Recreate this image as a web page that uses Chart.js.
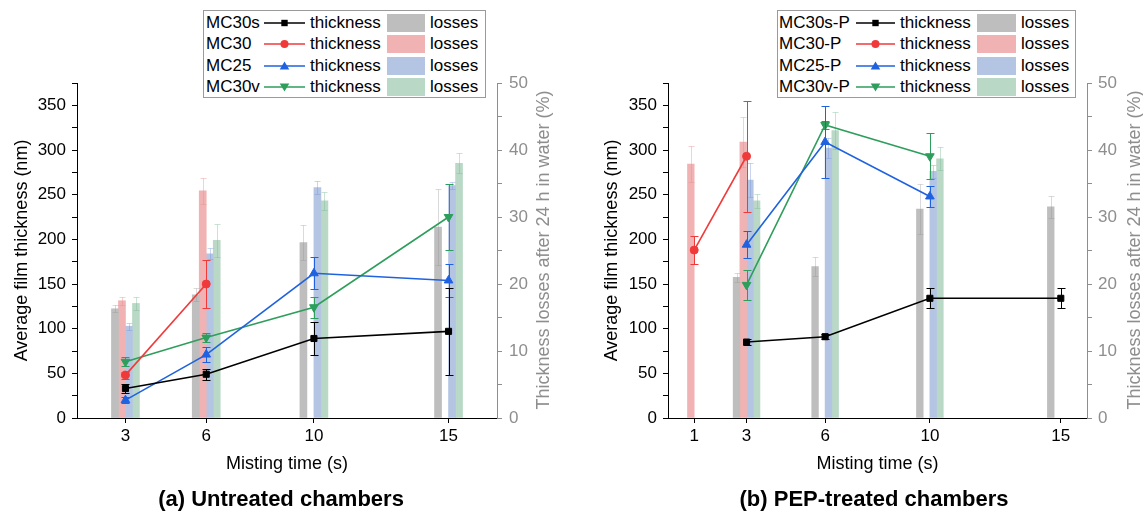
<!DOCTYPE html>
<html><head><meta charset="utf-8">
<script src="https://cdn.jsdelivr.net/npm/chart.js@4.4.1/dist/chart.umd.min.js"></script>
<style>
html,body{margin:0;padding:0;background:#fff;}
body{width:1143px;height:513px;position:relative;overflow:hidden;font-family:"Liberation Sans",Arial,sans-serif;}
canvas{position:absolute;top:0;}
.t{position:absolute;white-space:nowrap;font-size:17px;line-height:20px;color:#000;}
.box{position:absolute;border:1px solid #9a9a9a;background:#fff;box-sizing:border-box;}
.sw{position:absolute;}
.title{position:absolute;font-weight:bold;font-size:22px;line-height:26px;text-align:center;color:#000;}
.rt{position:absolute;font-size:18px;line-height:20px;height:20px;text-align:center;color:#8e8e8e;white-space:nowrap;transform:rotate(-90deg);transform-origin:50% 50%;}
</style></head><body>
<canvas id="ca" width="560" height="513" style="left:0px"></canvas>
<canvas id="cb" width="553" height="513" style="left:590px"></canvas>
<div class="title" style="left:131px;top:486px;width:300px">(a) Untreated chambers</div>
<div class="title" style="left:724px;top:486px;width:300px">(b) PEP-treated chambers</div>
<script>
// ---------------- DATA ----------------
// Panel (a) untreated chambers
const timesA = [3, 6, 10, 15];
const namesA = ['MC30s', 'MC30', 'MC25', 'MC30v'];
const thickA_MC30s = [33, 49, 89, 97];
const thickA_MC30  = [48, 150, null, null];
const thickA_MC25  = [20, 71, 162, 154];
const thickA_MC30v = [63, 90, 124, 225];
const thickErrA_MC30s = [5, 6, 19, 49];
const thickErrA_MC30  = [4, 27, null, null];
const thickErrA_MC25  = [3, 8, 18, 18];
const thickErrA_MC30v = [5, 5, 12, 37];
const lossA_MC30s = [16.3, 18.4, 26.2, 28.5];
const lossA_MC30  = [17.5, 33.9, null, null];
const lossA_MC25  = [13.7, 24.5, 34.4, 34.7];
const lossA_MC30v = [17.1, 26.5, 32.4, 38.0];
const lossErrA_MC30s = [0.5, 1.0, 2.6, 5.7];
const lossErrA_MC30  = [0.6, 1.9, null, null];
const lossErrA_MC25  = [0.5, 0.8, 0.9, 0.5];
const lossErrA_MC30v = [1.0, 2.4, 1.3, 1.5];

// Panel (b) PEP-treated chambers
const timesB = [1, 3, 6, 10, 15];
const namesB = ['MC30s-P', 'MC30-P', 'MC25-P', 'MC30v-P'];
const thickB_MC30s = [null, 85, 91, 134, 134];
const thickB_MC30  = [188, 293, null, null, null];
const thickB_MC25  = [null, 194, 309, 248, null];
const thickB_MC30v = [null, 149, 328, 293, null];
const thickErrB_MC30s = [null, 3, 3, 11, 11];
const thickErrB_MC30  = [16, 62, null, null, null];
const thickErrB_MC25  = [null, 15, 40, 12, null];
const thickErrB_MC30v = [null, 17, 5, 26, null];
const lossB_MC30s = [null, 21.0, 22.6, 31.2, 31.5];
const lossB_MC30  = [37.9, 41.2, null, null, null];
const lossB_MC25  = [null, 35.5, 40.3, 36.8, null];
const lossB_MC30v = [null, 32.4, 42.9, 38.7, null];
const lossErrB_MC30s = [null, 0.7, 1.4, 3.7, 1.7];
const lossErrB_MC30  = [2.7, 3.7, null, null, null];
const lossErrB_MC25  = [null, 2.5, 1.5, 1.0, null];
const lossErrB_MC30v = [null, 1.0, 2.8, 1.7, null];

// axis labels
const xTitle = 'Misting time (s)';
const yTitle = 'Average film thickness (nm)';
const y2Title = 'Thickness losses after 24 h in water (%)';

// ---------------- STYLE ----------------
const lineColors = ['#000000', '#f03a3a', '#1f62e0', '#2e9e5c'];
const barColors  = ['#bebebe', '#f0b2b2', '#b3c5e3', '#b9d9c6'];
const barErrColors = ['rgba(150,150,150,0.35)', 'rgba(230,140,140,0.4)', 'rgba(120,150,220,0.4)', 'rgba(120,185,150,0.4)'];
const pointStyles = ['rect', 'circle', 'triangle', 'triangle'];
const pointRot = [0, 0, 0, 180];
const pointRad = [4.3, 4, 5, 5];
const FONT = '"Liberation Sans", Arial, sans-serif';
const GRAY = '#8e8e8e';

Chart.defaults.font.family = FONT;
Chart.defaults.font.size = 17;
Chart.defaults.color = '#000';

const errorBarPlugin = {
  id: 'errbars',
  afterDatasetDraw(chart, args) {
    const ds = chart.data.datasets[args.index];
    if (!ds.errValues) return;
    const meta = args.meta;
    const ys = chart.scales[meta.yAxisID];
    const ctx = chart.ctx;
    const cap = ds.errCap || 4;
    ctx.save();
    ctx.strokeStyle = ds.errColor;
    ctx.lineWidth = 1;
    meta.data.forEach((el, i) => {
      const v = ds.data[i].y, e = ds.errValues[i];
      if (v == null || e == null || !isFinite(el.x)) return;
      const x = Math.round(el.x) + 0.5;
      const y1 = Math.round(ys.getPixelForValue(v + e)) + 0.5;
      const y2 = Math.round(ys.getPixelForValue(v - e)) + 0.5;
      ctx.beginPath();
      ctx.moveTo(x, y1); ctx.lineTo(x, y2);
      ctx.moveTo(x - cap, y1); ctx.lineTo(x + cap, y1);
      ctx.moveTo(x - cap, y2); ctx.lineTo(x + cap, y2);
      ctx.stroke();
    });
    ctx.restore();
  }
};

function pts(times, vals) { return times.map((t, i) => ({ x: t, y: vals[i] })); }

function makeChart(id, p) {
  const datasets = [];
  for (let k = 0; k < 4; k++) {
    datasets.push({
      type: 'line', label: p.names[k] + ' thickness', data: pts(p.times, p.thick[k]),
      yAxisID: 'y', order: 1,
      borderColor: lineColors[k], backgroundColor: lineColors[k], borderWidth: 1.6,
      pointStyle: pointStyles[k], rotation: pointRot[k], pointRadius: pointRad[k],
      pointBorderColor: lineColors[k], pointBackgroundColor: lineColors[k], pointBorderWidth: 1,
      tension: 0, spanGaps: false,
      errValues: p.thickErr[k], errColor: lineColors[k], errCap: 4
    });
  }
  for (let k = 0; k < 4; k++) {
    datasets.push({
      type: 'bar', label: p.names[k] + ' losses', data: pts(p.times, p.loss[k]),
      yAxisID: 'y2', order: 2,
      backgroundColor: barColors[k], borderWidth: 0,
      barThickness: p.barW,
      errValues: p.lossErr[k], errColor: barErrColors[k], errCap: 3
    });
  }
  return new Chart(document.getElementById(id), {
    type: 'bar',
    data: { datasets },
    plugins: [errorBarPlugin],
    options: {
      responsive: false, animation: false, devicePixelRatio: 1,
      layout: { padding: { top: 83, left: 0, right: 0, bottom: 0 } },
      plugins: { legend: { display: false }, tooltip: { enabled: false } },
      scales: {
        x: {
          type: 'linear', min: p.xMin, max: p.xMax, offset: false,
          afterFit: s => { s.height = 95; },
          afterBuildTicks: s => { s.ticks = p.times.map(v => ({ value: v })); },
          ticks: { color: '#000', padding: 3, font: { size: 17 }, autoSkip: false, maxRotation: 0 },
          grid: { drawOnChartArea: false, drawTicks: true, tickLength: 5, color: '#000', offset: false },
          border: { color: '#000', width: 1 },
          title: { display: true, text: xTitle, color: '#000', font: { size: 18 }, padding: { top: 0, bottom: 38 } }
        },
        y: {
          type: 'linear', position: 'left', min: 0, max: 375,
          afterFit: s => { s.width = p.yW; },
          ticks: { stepSize: 25, autoSkip: false, padding: 6, color: '#000', font: { size: 17 },
                   callback: v => (v % 50 === 0 ? String(v) : '') },
          grid: { drawOnChartArea: false, drawTicks: true, tickLength: 5, color: '#000' },
          border: { color: '#000', width: 1 },
          title: { display: true, text: yTitle, color: '#000', font: { size: 18 }, padding: { top: 11, bottom: 0 } }
        },
        y2: {
          type: 'linear', position: 'right', min: 0, max: 50,
          afterFit: s => { s.width = p.y2W; },
          ticks: { stepSize: 5, autoSkip: false, padding: p.y2Pad, color: GRAY, font: { size: 17 },
                   callback: v => (v % 10 === 0 ? String(v) : '') },
          grid: { drawOnChartArea: false, drawTicks: true, tickLength: 5, color: GRAY },
          border: { color: GRAY, width: 1 },
          title: { display: false }
        }
      }
    }
  });
}

makeChart('ca', {
  times: timesA, names: namesA, xMin: 1.2, xMax: 16.8, barW: 7, yW: 77, y2W: 63, y2Pad: 7,
  thick: [thickA_MC30s, thickA_MC30, thickA_MC25, thickA_MC30v],
  thickErr: [thickErrA_MC30s, thickErrA_MC30, thickErrA_MC25, thickErrA_MC30v],
  loss: [lossA_MC30s, lossA_MC30, lossA_MC25, lossA_MC30v],
  lossErr: [lossErrA_MC30s, lossErrA_MC30, lossErrA_MC25, lossErrA_MC30v]
});
makeChart('cb', {
  times: timesB, names: namesB, xMin: 0, xMax: 16, barW: 6.7, yW: 78, y2W: 56, y2Pad: 6,
  thick: [thickB_MC30s, thickB_MC30, thickB_MC25, thickB_MC30v],
  thickErr: [thickErrB_MC30s, thickErrB_MC30, thickErrB_MC25, thickErrB_MC30v],
  loss: [lossB_MC30s, lossB_MC30, lossB_MC25, lossB_MC30v],
  lossErr: [lossErrB_MC30s, lossErrB_MC30, lossErrB_MC25, lossErrB_MC30v]
});

// right-axis titles (read bottom to top, like the reference)
function rightTitle(cx, cy) {
  const d = document.createElement('div');
  d.className = 'rt';
  d.textContent = y2Title;
  const W = 360;
  Object.assign(d.style, { left: (cx - W / 2) + 'px', top: (cy - 10) + 'px', width: W + 'px' });
  document.body.appendChild(d);
}
rightTitle(543, 250);
rightTitle(1134, 250);

// ---------------- LEGENDS (HTML) ----------------
function markerSVG(k, w) {
  const c = lineColors[k], cy = 10, cx = w / 2;
  let m = '';
  if (k === 0) m = `<rect x="${cx-3.2}" y="${cy-3.2}" width="6.4" height="6.4" fill="${c}"/>`;
  else if (k === 1) m = `<circle cx="${cx}" cy="${cy}" r="4" fill="${c}"/>`;
  else if (k === 2) m = `<polygon points="${cx},${cy-4.5} ${cx+4.8},${cy+3.5} ${cx-4.8},${cy+3.5}" fill="${c}"/>`;
  else m = `<polygon points="${cx},${cy+4.5} ${cx+4.8},${cy-3.5} ${cx-4.8},${cy-3.5}" fill="${c}"/>`;
  return `<svg width="${w}" height="20" xmlns="http://www.w3.org/2000/svg"><line x1="0" y1="${cy}" x2="${w}" y2="${cy}" stroke="${c}" stroke-width="1.6"/>${m}</svg>`;
}
function buildLegend(names, L) {
  const body = document.body;
  const box = document.createElement('div');
  box.className = 'box';
  Object.assign(box.style, { left: L.boxL + 'px', top: '10px', width: (L.boxR - L.boxL) + 'px', height: '88px' });
  body.appendChild(box);
  names.forEach((n, i) => {
    const cy = 23.3 + 21.1 * i;
    const add = (html, x, cls, extra) => {
      const d = document.createElement('div');
      d.className = cls; d.innerHTML = html;
      d.style.left = x + 'px'; d.style.top = (cy - 10) + 'px';
      if (extra) Object.assign(d.style, extra);
      body.appendChild(d);
      return d;
    };
    add(n, L.label, 't');
    add(markerSVG(i, L.line2 - L.line1), L.line1, 'sw', { height: '20px' });
    add('thickness', L.thick, 't');
    add('', L.sw1, 'sw', { width: (L.sw2 - L.sw1) + 'px', height: '18px', top: (cy - 9) + 'px', background: barColors[i] });
    add('losses', L.loss, 't');
  });
}
buildLegend(namesA, { boxL: 203, boxR: 486, label: 206, line1: 264, line2: 305, thick: 310, sw1: 387, sw2: 425, loss: 430 });
buildLegend(namesB, { boxL: 777, boxR: 1076, label: 779, line1: 856, line2: 895, thick: 900, sw1: 977, sw2: 1016, loss: 1021 });
</script>
</body></html>
